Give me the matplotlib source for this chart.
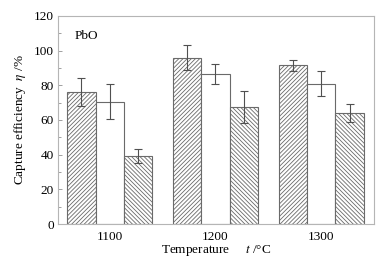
import matplotlib
matplotlib.use("Agg")
import matplotlib.pyplot as plt
import numpy as np

plt.rcParams['font.family'] = ['Liberation Serif', 'DejaVu Serif']
plt.rcParams['mathtext.fontset'] = 'stix'
plt.rcParams['hatch.linewidth'] = 0.6

categories = ['1100', '1200', '1300']
series1 = [76, 96, 91.5]
err1 = [8, 7, 3.2]
series2 = [70.5, 86.5, 81]
err2 = [10, 6, 7]
series3 = [39, 67.5, 64]
err3 = [4, 9, 5]

fig = plt.figure(figsize=(3.86, 2.64), dpi=100)
ax = fig.add_axes([0.150, 0.1515, 0.819, 0.788])

x = np.arange(len(categories))
w = 0.268
edge = '#6a6a6a'
plt.rcParams['hatch.color'] = edge
ekw = dict(ecolor='#505050', elinewidth=0.8, capsize=3, capthick=0.8)
ax.bar(x - w, series1, w, yerr=err1, color='white', edgecolor=edge, hatch='////////', linewidth=0.8, error_kw=ekw)
ax.bar(x, series2, w, yerr=err2, color='white', edgecolor=edge, linewidth=0.8, error_kw=ekw)
ax.bar(x + w, series3, w, yerr=err3, color='white', edgecolor=edge, hatch='\\\\\\\\\\\\\\\\', linewidth=0.8, error_kw=ekw)

ax.set_xlim(-0.49, 2.5)
ax.set_ylim(0, 120)
ax.set_xticks(x)
ax.set_xticklabels(categories)
ax.set_yticks(np.arange(0, 121, 20))
ax.set_yticks(np.arange(0, 121, 10), minor=True)
ax.tick_params(axis='y', which='major', direction='in', length=3, width=0.6, color='#909090', labelsize=9.5, pad=3)
ax.tick_params(axis='y', which='minor', direction='in', length=1.8, width=0.6, color='#909090')
ax.tick_params(axis='x', which='both', length=0, labelsize=9.5, pad=5)
for s in ax.spines.values():
    s.set_color('#b5b5b5')
    s.set_linewidth(0.8)

ax.set_ylabel('Capture efficiency  $\\eta$ /%', fontsize=9.5, labelpad=4)
ax.set_xlabel('Temperature     $t$ /\u00b0C', fontsize=9.5, labelpad=0)
ax.text(0.054, 0.905, 'PbO', transform=ax.transAxes, fontsize=9.5, va='center', ha='left')

fig.savefig('out.png', dpi=100)
